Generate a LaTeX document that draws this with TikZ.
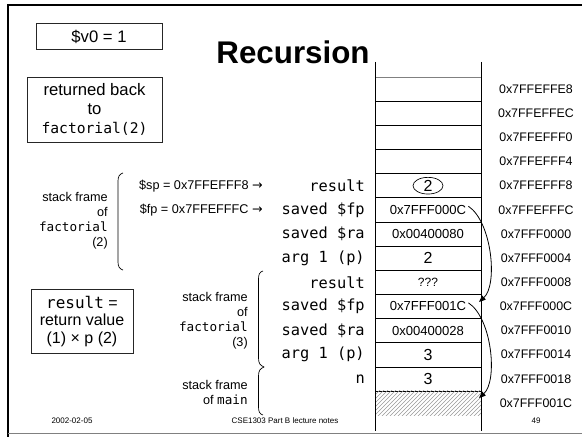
\documentclass[tikz,border=0pt]{standalone}
\usepackage{fontspec}
\setmainfont{Liberation Sans}
\setmonofont{DejaVu Sans Mono}
\newfontfamily\djv{DejaVu Sans}
\usetikzlibrary{arrows.meta,patterns,shapes.geometric}
\begin{document}
\begin{tikzpicture}[x=0.75pt,y=-0.75pt,
  fieldlbl/.style={anchor=east, font=\ttfamily\fontsize{11.5}{13}\selectfont, inner sep=0pt},
  cellval/.style={font=\fontsize{9.8}{12}\selectfont, inner sep=0pt},
  bigval/.style={font=\fontsize{12}{14}\selectfont, inner sep=0pt},
  addr/.style={font=\fontsize{9.3}{11}\selectfont, inner sep=0pt},
  framelbl/.style={anchor=east, align=right, font=\fontsize{9.5}{11.25}\selectfont, inner sep=0pt},
  ptr/.style={anchor=east, font=\fontsize{9.5}{11}\selectfont, inner sep=0pt},
  note/.style={draw=black!85, line width=0.6pt, align=center, inner sep=0pt},
  bracepath/.style={line width=0.5pt},
  link/.style={line width=0.6pt, -{Triangle[length=5pt,width=4pt]}},
  foot/.style={font=\fontsize{6}{7}\selectfont, inner sep=0pt}]
\useasboundingbox (0,0) rectangle (582,438);
% slide frame
\draw[line width=2pt] (582,5) -- (8,5) -- (8,437);
\draw[gray, line width=0.8pt] (8,433.5) -- (582,433.5);
% title
\node[anchor=base, font=\bfseries\fontsize{23.5}{26}\selectfont, inner sep=0pt] (title) at (293,64) {Recursion};
% boxes on the left
\node[note, minimum width=94.5pt, minimum height=19.5pt, font=\fontsize{12.5}{14}\selectfont] (v0) at (99,36.5) {\$v0 = 1};
\node[note, minimum width=101.25pt, minimum height=48.75pt, font=\fontsize{12.5}{14.25}\selectfont] (ret) at (94.5,109.5) {returned back\\to\\{\ttfamily\fontsize{11}{14.25}\selectfont factorial(2)}};
\node[note, minimum width=76.5pt, minimum height=48.5pt, font=\fontsize{12}{13.2}\selectfont] (res) at (82,321.5) {{\ttfamily\fontsize{12}{13.2}\selectfont result} =\\return value\\(1) × p (2)};
% stack grid
\draw[gray] (375,77) -- (481,77);
\foreach \i in {1,...,13} \draw (375,{77+24.15*\i}) -- (481,{77+24.15*\i});
\fill[pattern=north east lines, pattern color=gray!80] (375,390.95) rectangle (481,415.1);
\draw (375,62) -- (375,431);
\draw (481,62) -- (481,431);
% addresses
\node[addr] (a1) at (536,89.1) {0x7FFEFFE8};
\node[addr] (a2) at (536,113.2) {0x7FFEFFEC};
\node[addr] (a3) at (536,137.4) {0x7FFEFFF0};
\node[addr] (a4) at (536,161.5) {0x7FFEFFF4};
\node[addr] (a5) at (536,185.7) {0x7FFEFFF8};
\node[addr] (a6) at (536,209.8) {0x7FFEFFFC};
\node[addr] (a7) at (536,234.0) {0x7FFF0000};
\node[addr] (a8) at (536,258.1) {0x7FFF0004};
\node[addr] (a9) at (536,282.3) {0x7FFF0008};
\node[addr] (a10) at (536,306.4) {0x7FFF000C};
\node[addr] (a11) at (536,330.6) {0x7FFF0010};
\node[addr] (a12) at (536,354.7) {0x7FFF0014};
\node[addr] (a13) at (536,378.9) {0x7FFF0018};
\node[addr] (a14) at (536,403.0) {0x7FFF001C};
% cell values
\node[bigval, ellipse, draw, line width=0.5pt, minimum width=22.5pt, minimum height=12.5pt] (v5) at (428,185.7) {2};
\node[cellval] (v6) at (428,209.8) {0x7FFF000C};
\node[cellval] (v7) at (428,234.0) {0x00400080};
\node[bigval] (v8) at (428,258.1) {2};
\node[cellval, font=\fontsize{9}{11}\selectfont] (v9) at (428,282.3) {???};
\node[cellval] (v10) at (428,306.4) {0x7FFF001C};
\node[cellval] (v11) at (428,330.6) {0x00400028};
\node[bigval] (v12) at (428,354.7) {3};
\node[bigval] (v13) at (428,378.9) {3};
% field labels
\node[fieldlbl] (f5) at (365,185.7) {result};
\node[fieldlbl] (f6) at (365,209.8) {saved \$fp};
\node[fieldlbl] (f7) at (365,234.0) {saved \$ra};
\node[fieldlbl] (f8) at (365,258.1) {arg 1 (p)};
\node[fieldlbl] (f9) at (365,282.3) {result};
\node[fieldlbl] (f10) at (365,306.4) {saved \$fp};
\node[fieldlbl] (f11) at (365,330.6) {saved \$ra};
\node[fieldlbl] (f12) at (365,354.7) {arg 1 (p)};
\node[fieldlbl] (f13) at (365,378.9) {n};
% pointers
\node[ptr] (sp) at (263,185.7) {\$sp = 0x7FFEFFF8 {\djv→}};
\node[ptr] (fp) at (263,209.8) {\$fp = 0x7FFEFFFC {\djv→}};
% frame labels and braces
\node[framelbl] (fr2) at (108,221) {stack frame\\of\\{\ttfamily factorial}\\(2)};
\node[framelbl] (fr3) at (248,320.5) {stack frame\\of\\{\ttfamily factorial}\\(3)};
\node[framelbl] (frm) at (248,392) {stack frame\\of {\ttfamily main}};
\draw[bracepath] (123,173) .. controls (119.5,174) and (118,176.5) .. (118,181) -- (118,262)
  .. controls (118,266.5) and (119.5,269) .. (123,270);
\draw[bracepath] (263,271) .. controls (259.5,272) and (258.5,274.5) .. (258.5,279) -- (258.5,358)
  .. controls (258.5,363) and (260,365.5) .. (264,367)
  .. controls (260,368.5) and (258.5,371) .. (258.5,376) -- (258.5,407)
  .. controls (258.5,411.5) and (259.5,414) .. (263,415);
% saved frame pointer links
\coordinate (t1) at (479,302);
\coordinate (t2) at (479,398);
\draw[link] ([xshift=1.5pt,yshift=-1pt]v6.north east) .. controls (492,222) and (498,285) .. (t1);
\draw[link] ([xshift=1.5pt,yshift=-1pt]v10.north east) .. controls (492,318) and (498,381) .. (t2);
% footer
\node[foot] (date) at (72,421) {2002-02-05};
\node[foot] (course) at (285,421) {CSE1303 Part B lecture notes};
\node[foot] (page) at (536,421) {49};
\end{tikzpicture}
\end{document}
